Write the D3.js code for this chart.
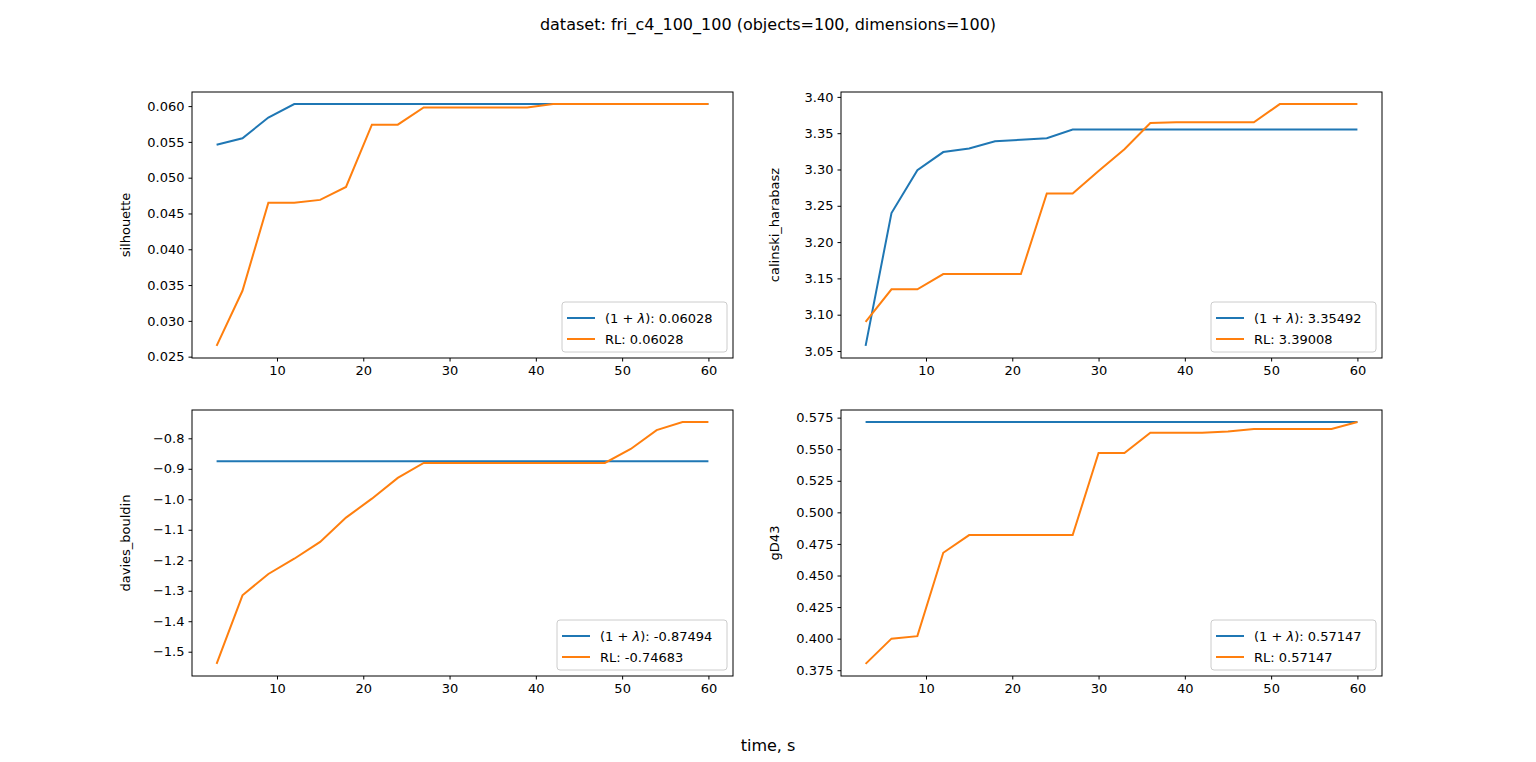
<!DOCTYPE html>
<html>
<head>
<meta charset="utf-8">
<script src="https://cdn.jsdelivr.net/npm/d3@7"></script>
<style>
  body { margin: 0; background: #fff; }
  svg text { font-family: "DejaVu Sans", sans-serif; fill: #000; }
</style>
</head>
<body>
<svg id="chart" width="1536" height="762"></svg>
<script>
// time axis, seconds
const times = [3, 6, 9, 12, 15, 18, 21, 24, 27, 30, 33, 36, 39, 42, 45, 48, 51, 54, 57, 60];

const silhouetteOne = [0.0546, 0.0555, 0.0584, 0.06028, 0.06028, 0.06028, 0.06028, 0.06028, 0.06028, 0.06028,
  0.06028, 0.06028, 0.06028, 0.06028, 0.06028, 0.06028, 0.06028, 0.06028, 0.06028, 0.06028];
const silhouetteRL = [0.0265, 0.0342, 0.0465, 0.0465, 0.0469, 0.0487, 0.0574, 0.0574, 0.0598, 0.0598,
  0.0598, 0.0598, 0.0598, 0.06028, 0.06028, 0.06028, 0.06028, 0.06028, 0.06028, 0.06028];

const calinskiOne = [3.057, 3.240, 3.299, 3.324, 3.329, 3.339, 3.341, 3.343, 3.35492, 3.35492,
  3.35492, 3.35492, 3.35492, 3.35492, 3.35492, 3.35492, 3.35492, 3.35492, 3.35492, 3.35492];
const calinskiRL = [3.090, 3.135, 3.135, 3.156, 3.156, 3.156, 3.156, 3.267, 3.267, 3.298,
  3.328, 3.364, 3.365, 3.365, 3.365, 3.365, 3.39008, 3.39008, 3.39008, 3.39008];

const daviesOne = times.map(() => -0.87494);
const daviesRL = [-1.540, -1.315, -1.245, -1.195, -1.140, -1.060, -0.998, -0.930, -0.881, -0.881,
  -0.881, -0.881, -0.881, -0.881, -0.881, -0.881, -0.835, -0.773, -0.74683, -0.74683];

const gd43One = times.map(() => 0.57147);
const gd43RL = [0.380, 0.400, 0.402, 0.468, 0.482, 0.482, 0.482, 0.482, 0.482, 0.547,
  0.547, 0.563, 0.563, 0.563, 0.564, 0.566, 0.566, 0.566, 0.566, 0.57147];

const xTicks = [10, 20, 30, 40, 50, 60];
const panelNames = ["silhouette", "calinski_harabasz", "davies_bouldin", "gD43"];
const legendOne = ["0.06028", "3.35492", "-0.87494", "0.57147"];
const legendRL = ["0.06028", "3.39008", "-0.74683", "0.57147"];
const yTickSets = [
  [0.025, 0.030, 0.035, 0.040, 0.045, 0.050, 0.055, 0.060],
  [3.05, 3.10, 3.15, 3.20, 3.25, 3.30, 3.35, 3.40],
  [-1.5, -1.4, -1.3, -1.2, -1.1, -1.0, -0.9, -0.8],
  [0.375, 0.400, 0.425, 0.450, 0.475, 0.500, 0.525, 0.550, 0.575]
];
const yFormats = [".3f", ".2f", ".1f", ".3f"];

const series = [
  [silhouetteOne, silhouetteRL],
  [calinskiOne, calinskiRL],
  [daviesOne, daviesRL],
  [gd43One, gd43RL]
];

const blue = "#1f77b4", orange = "#ff7f0e";
const svg = d3.select("#chart");

const panels = [
  { left: 192, top: 92 },
  { left: 841, top: 92 },
  { left: 192, top: 410 },
  { left: 841, top: 410 }
];
const pw = 541, ph = 266;

const minus = s => s.replace("-", "\u2212");

svg.append("text").attr("x", 768).attr("y", 30).attr("text-anchor", "middle")
  .style("font-size", "16px").text("dataset: fri_c4_100_100 (objects=100, dimensions=100)");
svg.append("text").attr("x", 768).attr("y", 751).attr("text-anchor", "middle")
  .style("font-size", "16px").text("time, s");

panels.forEach((p, i) => {
  const g = svg.append("g").attr("transform", `translate(${p.left},${p.top})`);
  const [one, rl] = series[i];

  const xPad = (60 - 3) * 0.05;
  const xScale = d3.scaleLinear().domain([3 - xPad, 60 + xPad]).range([0, pw]);
  const ext = d3.extent(one.concat(rl));
  const yPad = (ext[1] - ext[0]) * 0.05;
  const yScale = d3.scaleLinear().domain([ext[0] - yPad, ext[1] + yPad]).range([ph, 0]);

  const xAxis = d3.axisBottom(xScale).tickValues(xTicks).tickSize(3.5).tickPadding(4);
  const yAxis = d3.axisLeft(yScale).tickValues(yTickSets[i]).tickSize(3.5).tickPadding(4)
    .tickFormat(d => minus(d3.format(yFormats[i])(d)));

  g.append("g").attr("transform", `translate(0,${ph})`).call(xAxis);
  g.append("g").call(yAxis);
  g.selectAll(".tick text").style("font-size", "13px").style("font-family", "DejaVu Sans");
  g.selectAll(".domain").remove();

  const line = d3.line().x((d, j) => xScale(times[j])).y(d => yScale(d));
  g.append("path").attr("d", line(one)).attr("fill", "none").attr("stroke", blue).attr("stroke-width", 2);
  g.append("path").attr("d", line(rl)).attr("fill", "none").attr("stroke", orange).attr("stroke-width", 2);

  g.append("rect").attr("width", pw).attr("height", ph).attr("fill", "none")
    .attr("stroke", "#000").attr("stroke-width", 1);

  g.append("text").attr("transform", `translate(-62,${ph / 2}) rotate(-90)`)
    .attr("text-anchor", "middle").style("font-size", "13px").text(panelNames[i]);

  // legend, lower right
  const lw = i === 2 ? 170 : 165, lh = 50;
  const lg = g.append("g").attr("transform", `translate(${pw - lw - 6},${ph - lh - 6})`);
  lg.append("rect").attr("width", lw).attr("height", lh).attr("rx", 3)
    .attr("fill", "#fff").attr("fill-opacity", 0.8).attr("stroke", "#ccc");
  [[blue, legendOne[i], true], [orange, legendRL[i], false]].forEach(([c, v, isOne], k) => {
    const y = 16 + k * 21;
    lg.append("line").attr("x1", 5).attr("x2", 33).attr("y1", y).attr("y2", y)
      .attr("stroke", c).attr("stroke-width", 2);
    const t = lg.append("text").attr("x", 43).attr("y", y + 5).style("font-size", "13px");
    if (isOne) {
      t.append("tspan").text("(1 + ");
      t.append("tspan").style("font-style", "italic").text("\u03bb");
      t.append("tspan").text("): " + v);
    } else {
      t.text("RL: " + v);
    }
  });
});
</script>
</body>
</html>
